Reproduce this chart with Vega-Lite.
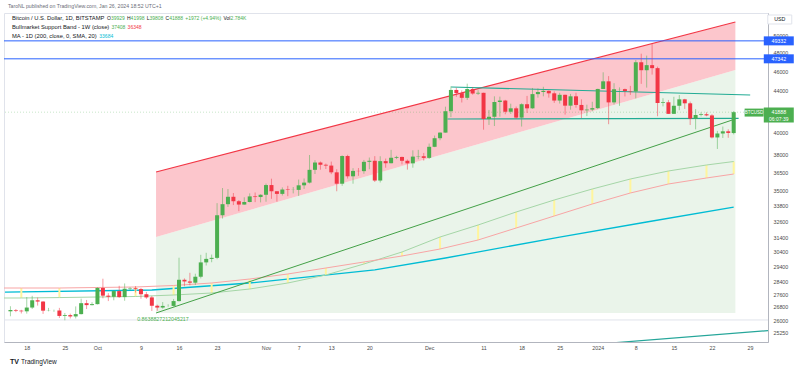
{
"$schema":"https://vega.github.io/schema/vega-lite/v6.json",
"width":764,"height":329,"autosize":"none",
"padding":{"left":4,"top":13,"right":32,"bottom":28},
"background":"white",
"config":{"view":{"stroke":"#E0E3EB"},"font":"Liberation Sans","axis":{"grid":false,"ticks":false,"domainColor":"#B2B5BE","labelFont":"Liberation Sans","labelColor":"#4A4A4A","labelFontSize":5.3,"labelOverlap":false,"labelFlush":false}},
"datasets":{
"candles":[
{"d":"2023-09-15","o":26530,"h":26840,"l":26230,"c":26610},
{"d":"2023-09-16","o":26610,"h":26670,"l":26480,"c":26570},
{"d":"2023-09-17","o":26570,"h":26620,"l":26400,"c":26530},
{"d":"2023-09-18","o":26530,"h":27410,"l":26390,"c":26760},
{"d":"2023-09-19","o":26760,"h":27490,"l":26670,"c":27210},
{"d":"2023-09-20","o":27210,"h":27380,"l":26880,"c":27130},
{"d":"2023-09-21","o":27130,"h":27160,"l":26370,"c":26570},
{"d":"2023-09-22","o":26570,"h":26740,"l":26530,"c":26580},
{"d":"2023-09-23","o":26580,"h":26630,"l":26500,"c":26580},
{"d":"2023-09-24","o":26580,"h":26740,"l":26130,"c":26250},
{"d":"2023-09-25","o":26250,"h":26430,"l":25990,"c":26300},
{"d":"2023-09-26","o":26300,"h":26390,"l":26100,"c":26220},
{"d":"2023-09-27","o":26220,"h":26830,"l":26100,"c":26360},
{"d":"2023-09-28","o":26360,"h":27310,"l":26340,"c":27030},
{"d":"2023-09-29","o":27030,"h":27230,"l":26670,"c":26910},
{"d":"2023-09-30","o":26910,"h":27090,"l":26890,"c":26970},
{"d":"2023-10-01","o":26970,"h":28040,"l":26950,"c":27990},
{"d":"2023-10-02","o":27990,"h":28590,"l":27330,"c":27500},
{"d":"2023-10-03","o":27500,"h":27660,"l":27160,"c":27430},
{"d":"2023-10-04","o":27430,"h":27830,"l":27210,"c":27790},
{"d":"2023-10-05","o":27790,"h":28130,"l":27360,"c":27410},
{"d":"2023-10-06","o":27410,"h":28280,"l":27180,"c":27940},
{"d":"2023-10-07","o":27940,"h":28040,"l":27840,"c":27970},
{"d":"2023-10-08","o":27970,"h":28110,"l":27700,"c":27920},
{"d":"2023-10-09","o":27920,"h":27990,"l":27310,"c":27590},
{"d":"2023-10-10","o":27590,"h":27740,"l":27300,"c":27390},
{"d":"2023-10-11","o":27390,"h":27480,"l":26550,"c":26870},
{"d":"2023-10-12","o":26870,"h":26940,"l":26560,"c":26760},
{"d":"2023-10-13","o":26760,"h":27100,"l":26690,"c":26860},
{"d":"2023-10-14","o":26860,"h":26960,"l":26810,"c":26860},
{"d":"2023-10-15","o":26860,"h":27290,"l":26820,"c":27160},
{"d":"2023-10-16","o":27160,"h":30000,"l":27130,"c":28520},
{"d":"2023-10-17","o":28520,"h":28610,"l":28100,"c":28410},
{"d":"2023-10-18","o":28410,"h":28980,"l":28160,"c":28330},
{"d":"2023-10-19","o":28330,"h":28920,"l":28180,"c":28720},
{"d":"2023-10-20","o":28720,"h":30200,"l":28610,"c":29680},
{"d":"2023-10-21","o":29680,"h":30340,"l":29470,"c":29920},
{"d":"2023-10-22","o":29920,"h":30220,"l":29690,"c":29990},
{"d":"2023-10-23","o":29990,"h":34000,"l":29900,"c":33070},
{"d":"2023-10-24","o":33070,"h":35200,"l":32820,"c":33920},
{"d":"2023-10-25","o":33920,"h":35120,"l":33710,"c":34500},
{"d":"2023-10-26","o":34500,"h":34800,"l":33850,"c":34150},
{"d":"2023-10-27","o":34150,"h":34240,"l":33380,"c":33890},
{"d":"2023-10-28","o":33890,"h":34460,"l":33870,"c":34090},
{"d":"2023-10-29","o":34090,"h":34770,"l":34060,"c":34530},
{"d":"2023-10-30","o":34530,"h":34840,"l":34080,"c":34480},
{"d":"2023-10-31","o":34480,"h":34700,"l":34060,"c":34660},
{"d":"2023-11-01","o":34660,"h":35560,"l":34110,"c":35440},
{"d":"2023-11-02","o":35440,"h":35960,"l":34340,"c":34940},
{"d":"2023-11-03","o":34940,"h":34940,"l":34120,"c":34730},
{"d":"2023-11-04","o":34730,"h":35250,"l":34600,"c":35080},
{"d":"2023-11-05","o":35080,"h":35380,"l":34550,"c":35040},
{"d":"2023-11-06","o":35040,"h":35280,"l":34770,"c":35050},
{"d":"2023-11-07","o":35050,"h":35890,"l":34570,"c":35420},
{"d":"2023-11-08","o":35420,"h":35980,"l":35130,"c":35640},
{"d":"2023-11-09","o":35640,"h":37970,"l":35570,"c":36700},
{"d":"2023-11-10","o":36700,"h":37520,"l":36350,"c":37320},
{"d":"2023-11-11","o":37320,"h":37410,"l":36710,"c":37130},
{"d":"2023-11-12","o":37130,"h":37230,"l":36770,"c":37060},
{"d":"2023-11-13","o":37060,"h":37400,"l":36340,"c":36490},
{"d":"2023-11-14","o":36490,"h":36750,"l":34940,"c":35550},
{"d":"2023-11-15","o":35550,"h":37940,"l":35380,"c":37880},
{"d":"2023-11-16","o":37880,"h":37990,"l":35970,"c":36160},
{"d":"2023-11-17","o":36160,"h":36840,"l":35550,"c":36610},
{"d":"2023-11-18","o":36610,"h":36850,"l":36200,"c":36590},
{"d":"2023-11-19","o":36590,"h":37540,"l":36370,"c":37380},
{"d":"2023-11-20","o":37380,"h":37750,"l":36750,"c":37470},
{"d":"2023-11-21","o":37470,"h":37870,"l":35690,"c":35810},
{"d":"2023-11-22","o":35810,"h":37860,"l":35650,"c":37440},
{"d":"2023-11-23","o":37440,"h":37660,"l":36880,"c":37260},
{"d":"2023-11-24","o":37260,"h":38420,"l":37260,"c":37730},
{"d":"2023-11-25","o":37730,"h":37900,"l":37610,"c":37800},
{"d":"2023-11-26","o":37800,"h":37830,"l":37160,"c":37470},
{"d":"2023-11-27","o":37470,"h":37580,"l":36720,"c":37250},
{"d":"2023-11-28","o":37250,"h":38380,"l":36880,"c":37830},
{"d":"2023-11-29","o":37830,"h":38420,"l":37600,"c":37860},
{"d":"2023-11-30","o":37860,"h":38150,"l":37490,"c":37720},
{"d":"2023-12-01","o":37720,"h":38980,"l":37620,"c":38690},
{"d":"2023-12-02","o":38690,"h":39700,"l":38660,"c":39460},
{"d":"2023-12-03","o":39460,"h":40000,"l":39280,"c":39970},
{"d":"2023-12-04","o":39970,"h":42420,"l":39970,"c":41980},
{"d":"2023-12-05","o":41980,"h":44450,"l":41420,"c":44080},
{"d":"2023-12-06","o":44080,"h":44300,"l":43390,"c":43760},
{"d":"2023-12-07","o":43760,"h":44040,"l":42830,"c":43290},
{"d":"2023-12-08","o":43290,"h":44720,"l":43080,"c":44170},
{"d":"2023-12-09","o":44170,"h":44380,"l":43600,"c":43720},
{"d":"2023-12-10","o":43720,"h":44050,"l":43580,"c":43790},
{"d":"2023-12-11","o":43790,"h":43800,"l":40240,"c":41240},
{"d":"2023-12-12","o":41240,"h":42100,"l":40680,"c":41450},
{"d":"2023-12-13","o":41450,"h":43440,"l":40580,"c":42880},
{"d":"2023-12-14","o":42880,"h":43410,"l":41460,"c":43020},
{"d":"2023-12-15","o":43020,"h":43090,"l":41690,"c":41930},
{"d":"2023-12-16","o":41930,"h":42710,"l":41720,"c":42260},
{"d":"2023-12-17","o":42260,"h":42430,"l":41250,"c":41370},
{"d":"2023-12-18","o":41370,"h":42750,"l":40530,"c":42660},
{"d":"2023-12-19","o":42660,"h":43480,"l":41810,"c":42260},
{"d":"2023-12-20","o":42260,"h":44280,"l":42220,"c":43660},
{"d":"2023-12-21","o":43660,"h":44240,"l":43310,"c":43870},
{"d":"2023-12-22","o":43870,"h":44400,"l":43440,"c":43990},
{"d":"2023-12-23","o":43990,"h":44030,"l":43310,"c":43740},
{"d":"2023-12-24","o":43740,"h":43940,"l":42790,"c":43020},
{"d":"2023-12-25","o":43020,"h":43790,"l":42730,"c":43590},
{"d":"2023-12-26","o":43590,"h":43600,"l":41660,"c":42520},
{"d":"2023-12-27","o":42520,"h":43680,"l":42130,"c":43440},
{"d":"2023-12-28","o":43440,"h":43800,"l":42320,"c":42590},
{"d":"2023-12-29","o":42590,"h":43140,"l":41320,"c":42070},
{"d":"2023-12-30","o":42070,"h":42610,"l":41520,"c":42140},
{"d":"2023-12-31","o":42140,"h":42900,"l":41970,"c":42280},
{"d":"2024-01-01","o":42280,"h":44200,"l":42180,"c":44180},
{"d":"2024-01-02","o":44180,"h":45900,"l":44180,"c":44960},
{"d":"2024-01-03","o":44960,"h":45500,"l":40750,"c":42840},
{"d":"2024-01-04","o":42840,"h":44770,"l":42630,"c":44150},
{"d":"2024-01-05","o":44150,"h":44340,"l":42500,"c":44160},
{"d":"2024-01-06","o":44160,"h":44220,"l":43430,"c":43970},
{"d":"2024-01-07","o":43970,"h":44490,"l":43580,"c":43930},
{"d":"2024-01-08","o":43930,"h":47210,"l":43230,"c":46970},
{"d":"2024-01-09","o":46970,"h":47900,"l":44700,"c":46120},
{"d":"2024-01-10","o":46120,"h":47690,"l":44320,"c":46660},
{"d":"2024-01-11","o":46660,"h":48970,"l":45660,"c":46340},
{"d":"2024-01-12","o":46340,"h":46500,"l":41500,"c":42780},
{"d":"2024-01-13","o":42780,"h":43250,"l":42450,"c":42850},
{"d":"2024-01-14","o":42850,"h":43080,"l":41720,"c":41730},
{"d":"2024-01-15","o":41730,"h":43390,"l":41720,"c":42510},
{"d":"2024-01-16","o":42510,"h":43570,"l":42080,"c":43140},
{"d":"2024-01-17","o":43140,"h":43190,"l":42200,"c":42750},
{"d":"2024-01-18","o":42750,"h":42920,"l":40680,"c":41280},
{"d":"2024-01-19","o":41280,"h":42180,"l":40270,"c":41620},
{"d":"2024-01-20","o":41620,"h":41870,"l":41480,"c":41690},
{"d":"2024-01-21","o":41690,"h":41880,"l":41500,"c":41580},
{"d":"2024-01-22","o":41580,"h":41690,"l":39440,"c":39530},
{"d":"2024-01-23","o":39530,"h":40130,"l":38500,"c":39890},
{"d":"2024-01-24","o":39890,"h":40530,"l":39480,"c":40090},
{"d":"2024-01-25","o":40090,"h":40280,"l":39500,"c":39940},
{"d":"2024-01-26","o":39929,"h":41998,"l":39808,"c":41888}
],
"ma200":[
{"t":"2023-09-14","p":27730},{"t":"2023-10-11","p":27858},{"t":"2023-10-29","p":28310},{"t":"2023-11-21","p":29175},{"t":"2023-12-04","p":29981},{"t":"2023-12-25","p":31459},{"t":"2024-01-10","p":32562},{"t":"2024-01-26","p":33684}
],
"bmsb":[
{"t":"2023-09-10","sma":27353,"ema":27987},{"t":"2023-09-17","sma":27353,"ema":27987},{"t":"2023-09-24","sma":27380,"ema":27987},{"t":"2023-10-01","sma":27415,"ema":28020},{"t":"2023-10-08","sma":27447,"ema":28052},{"t":"2023-10-15","sma":27541,"ema":28149},{"t":"2023-10-22","sma":27668,"ema":28310},{"t":"2023-10-29","sma":27923,"ema":28571},{"t":"2023-11-05","sma":28310,"ema":28901},{"t":"2023-11-12","sma":28835,"ema":29301},{"t":"2023-11-19","sma":29571,"ema":29708},{"t":"2023-11-26","sma":30397,"ema":30119},{"t":"2023-12-03","sma":31460,"ema":30606},{"t":"2023-12-10","sma":32338,"ema":31245},{"t":"2023-12-17","sma":33317,"ema":32116},{"t":"2023-12-24","sma":34247,"ema":33013},{"t":"2023-12-31","sma":35122,"ema":33934},{"t":"2024-01-07","sma":35937,"ema":34801},{"t":"2024-01-14","sma":36602,"ema":35527},{"t":"2024-01-21","sma":37110,"ema":36019},{"t":"2024-01-26","sma":37408,"ema":36348}
],
"zone":[
{"t":"2023-10-11T18:36:00Z","top":36518,"mid":31460,"bot":26428},
{"t":"2024-01-26T07:26:00Z","top":51513,"mid":46144,"bot":26428}
],
"diag":[
{"t":"2023-10-11T18:36:00Z","p":26428},{"t":"2024-01-26T07:26:00Z","p":41240}
],
"chan":[
{"g":"a","t":"2023-12-05T01:00:00Z","p":44379},{"g":"a","t":"2024-01-29T00:45:00Z","p":43572},
{"g":"b","t":"2023-12-04T08:50:00Z","p":41240},{"g":"b","t":"2024-01-26T21:40:00Z","p":41304}
],
"teal2":[
{"t":"2023-12-31T21:40:00Z","p":24608},{"t":"2024-02-02T13:40:00Z","p":25411}
]
},
"layer":[
{"data":{"name":"zone"},"mark":{"type":"area","color":"#EAF4EA","clip":true},
"encoding":{
"x":{"field":"t","type":"temporal","title":null,"scale":{"type":"utc","domain":[1694712948480,1706692913280]},
"axis":{"values":[1694995200000,1695600000000,1696118400000,1696809600000,1697414400000,1698019200000,1698796800000,1699315200000,1699833600000,1700438400000,1701388800000,1702252800000,1702857600000,1703462400000,1704067200000,1704672000000,1705276800000,1705881600000,1706486400000],
"labelExpr":"utcdate(datum.value)==1 ? (utcmonth(datum.value)==0 ? utcFormat(datum.value,'%Y') : utcFormat(datum.value,'%b')) : utcFormat(datum.value,'%-d')","labelPadding":3}},
"y":{"field":"mid","type":"quantitative","title":null,"scale":{"type":"log","domain":[24727,52588],"nice":false},
"axis":{"orient":"right","values":[50000,48000,46000,44000,40000,38000,36500,35000,33800,32600,31400,30400,29400,28400,27600,26800,26000,25250],"format":"d","labelAlign":"left","labelPadding":5}},
"y2":{"field":"bot"}}},
{"data":{"name":"zone"},"mark":{"type":"area","color":"#FCC6CC","clip":true},
"encoding":{"x":{"field":"t","type":"temporal","title":null,"scale":{"type":"utc","domain":[1694712948480,1706692913280]}},
"y":{"field":"top","type":"quantitative","title":null,"scale":{"type":"log","domain":[24727,52588],"nice":false}},"y2":{"field":"mid"}}},
{"data":{"values":[{"p":26009}]},"mark":{"type":"rule","color":"#E0E3EB","strokeWidth":1},
"encoding":{"y":{"field":"p","type":"quantitative","title":null,"scale":{"type":"log","domain":[24727,52588],"nice":false}}}},
{"data":{"values":[{"p":41888}]},"mark":{"type":"rule","color":"#4CAF50","strokeWidth":1,"opacity":0.3,"strokeDash":[1,2]},
"encoding":{"y":{"field":"p","type":"quantitative","title":null,"scale":{"type":"log","domain":[24727,52588],"nice":false}}}},
{"data":{"name":"ma200"},"mark":{"type":"line","color":"#00BCD4","strokeWidth":1.3,"clip":true},
"encoding":{"x":{"field":"t","type":"temporal","title":null,"scale":{"type":"utc","domain":[1694712948480,1706692913280]}},
"y":{"field":"p","type":"quantitative","title":null,"scale":{"type":"log","domain":[24727,52588],"nice":false}}}},
{"data":{"name":"bmsb"},"mark":{"type":"rule","color":"#FFF59D","strokeWidth":2,"clip":true},
"encoding":{"x":{"field":"t","type":"temporal","title":null,"scale":{"type":"utc","domain":[1694712948480,1706692913280]}},
"y":{"field":"sma","type":"quantitative","title":null,"scale":{"type":"log","domain":[24727,52588],"nice":false}},"y2":{"field":"ema"}}},
{"data":{"name":"bmsb"},"mark":{"type":"line","color":"#A5D6A7","strokeWidth":1,"clip":true},
"encoding":{"x":{"field":"t","type":"temporal","title":null,"scale":{"type":"utc","domain":[1694712948480,1706692913280]}},
"y":{"field":"sma","type":"quantitative","title":null,"scale":{"type":"log","domain":[24727,52588],"nice":false}}}},
{"data":{"name":"bmsb"},"mark":{"type":"line","color":"#F8A5A5","strokeWidth":1,"clip":true},
"encoding":{"x":{"field":"t","type":"temporal","title":null,"scale":{"type":"utc","domain":[1694712948480,1706692913280]}},
"y":{"field":"ema","type":"quantitative","title":null,"scale":{"type":"log","domain":[24727,52588],"nice":false}}}},
{"data":{"name":"diag"},"mark":{"type":"line","color":"#43A047","strokeWidth":1,"clip":true},
"encoding":{"x":{"field":"t","type":"temporal","title":null,"scale":{"type":"utc","domain":[1694712948480,1706692913280]}},
"y":{"field":"p","type":"quantitative","title":null,"scale":{"type":"log","domain":[24727,52588],"nice":false}}}},
{"data":{"name":"zone"},"mark":{"type":"line","color":"#F23645","strokeWidth":1.2,"clip":true},
"encoding":{"x":{"field":"t","type":"temporal","title":null,"scale":{"type":"utc","domain":[1694712948480,1706692913280]}},
"y":{"field":"top","type":"quantitative","title":null,"scale":{"type":"log","domain":[24727,52588],"nice":false}}}},
{"data":{"name":"chan"},"mark":{"type":"line","color":"#22AB94","strokeWidth":1.2,"clip":true},
"encoding":{"x":{"field":"t","type":"temporal","title":null,"scale":{"type":"utc","domain":[1694712948480,1706692913280]}},
"y":{"field":"p","type":"quantitative","title":null,"scale":{"type":"log","domain":[24727,52588],"nice":false}},"detail":{"field":"g"}}},
{"data":{"name":"teal2"},"mark":{"type":"line","color":"#26A69A","strokeWidth":1.2,"clip":true},
"encoding":{"x":{"field":"t","type":"temporal","title":null,"scale":{"type":"utc","domain":[1694712948480,1706692913280]}},
"y":{"field":"p","type":"quantitative","title":null,"scale":{"type":"log","domain":[24727,52588],"nice":false}}}},
{"data":{"values":[{"p":49332},{"p":47342}]},"mark":{"type":"rule","color":"#2962FF","strokeWidth":1},
"encoding":{"y":{"field":"p","type":"quantitative","title":null,"scale":{"type":"log","domain":[24727,52588],"nice":false}}}},
{"data":{"name":"candles"},"mark":{"type":"rule","strokeWidth":1,"opacity":0.5,"clip":true},
"encoding":{"x":{"field":"d","type":"temporal","title":null,"scale":{"type":"utc","domain":[1694712948480,1706692913280]}},
"y":{"field":"l","type":"quantitative","title":null,"scale":{"type":"log","domain":[24727,52588],"nice":false}},"y2":{"field":"h"},
"color":{"condition":{"test":"datum.c >= datum.o","value":"#4CAF50"},"value":"#F23645"}}},
{"data":{"name":"candles"},"mark":{"type":"bar","width":4,"clip":true},
"encoding":{"x":{"field":"d","type":"temporal","title":null,"scale":{"type":"utc","domain":[1694712948480,1706692913280]}},
"y":{"field":"o","type":"quantitative","title":null,"scale":{"type":"log","domain":[24727,52588],"nice":false}},"y2":{"field":"c"},
"color":{"condition":{"test":"datum.c >= datum.o","value":"#4CAF50"},"value":"#F23645"}}},
{"data":{"values":[{"p":49332,"s":"49332"},{"p":47342,"s":"47342"}]},"mark":{"type":"point","shape":"M-1,-0.3H1V0.3H-1Z","size":900,"filled":true,"opacity":1,"color":"#2962FF"},
"encoding":{"x":{"datum":1706943801600,"type":"temporal","title":null,"scale":{"type":"utc","domain":[1694712948480,1706692913280]}},
"y":{"field":"p","type":"quantitative","title":null,"scale":{"type":"log","domain":[24727,52588],"nice":false}}}},
{"data":{"values":[{"p":49332,"s":"49332"},{"p":47342,"s":"47342"}]},"mark":{"type":"text","color":"white","fontSize":5.3,"align":"center","baseline":"middle"},
"encoding":{"x":{"datum":1706943801600,"type":"temporal","title":null,"scale":{"type":"utc","domain":[1694712948480,1706692913280]}},
"y":{"field":"p","type":"quantitative","title":null,"scale":{"type":"log","domain":[24727,52588],"nice":false}},"text":{"field":"s"}}},
{"data":{"values":[{}]},"mark":{"type":"point","shape":"M-1,-0.5H1V0.5H-1Z","size":900,"filled":true,"opacity":1,"color":"#4CAF50"},
"encoding":{"x":{"datum":1706943801600,"type":"temporal","title":null,"scale":{"type":"utc","domain":[1694712948480,1706692913280]}},
"y":{"datum":41618,"type":"quantitative","title":null,"scale":{"type":"log","domain":[24727,52588],"nice":false}}}},
{"data":{"values":[{}]},"mark":{"type":"text","text":"41888","dy":-3.5,"color":"white","fontSize":5.3,"align":"center","baseline":"middle"},
"encoding":{"x":{"datum":1706943801600,"type":"temporal","title":null,"scale":{"type":"utc","domain":[1694712948480,1706692913280]}},
"y":{"datum":41618,"type":"quantitative","title":null,"scale":{"type":"log","domain":[24727,52588],"nice":false}}}},
{"data":{"values":[{}]},"mark":{"type":"text","text":"06:07:39","dy":3.5,"color":"white","fontSize":5,"align":"center","baseline":"middle"},
"encoding":{"x":{"datum":1706943801600,"type":"temporal","title":null,"scale":{"type":"utc","domain":[1694712948480,1706692913280]}},
"y":{"datum":41618,"type":"quantitative","title":null,"scale":{"type":"log","domain":[24727,52588],"nice":false}}}},
{"data":{"values":[{}]},"mark":{"type":"point","shape":"M-1,-0.42H1V0.42H-1Z","size":361,"filled":true,"opacity":1,"color":"#4CAF50"},
"encoding":{"x":{"datum":1706551804800,"type":"temporal","title":null,"scale":{"type":"utc","domain":[1694712948480,1706692913280]}},
"y":{"datum":41850,"type":"quantitative","title":null,"scale":{"type":"log","domain":[24727,52588],"nice":false}}}},
{"data":{"values":[{}]},"mark":{"type":"text","text":"BTCUSD","color":"white","fontSize":4.5,"align":"center","baseline":"middle"},
"encoding":{"x":{"datum":1706551804800,"type":"temporal","title":null,"scale":{"type":"utc","domain":[1694712948480,1706692913280]}},
"y":{"datum":41850,"type":"quantitative","title":null,"scale":{"type":"log","domain":[24727,52588],"nice":false}}}},
{"data":{"values":[{}]},"mark":{"type":"point","shape":"M-1,-0.375H1V0.375H-1Z","size":576,"filled":true,"opacity":1,"color":"white","stroke":"#E0E3EB","strokeWidth":1},
"encoding":{"x":{"datum":1706959440000,"type":"temporal","title":null,"scale":{"type":"utc","domain":[1694712948480,1706692913280]}},
"y":{"datum":51810,"type":"quantitative","title":null,"scale":{"type":"log","domain":[24727,52588],"nice":false}}}},
{"data":{"values":[{}]},"mark":{"type":"text","text":"USD","color":"#131722","fontSize":5.3,"align":"center","baseline":"middle"},
"encoding":{"x":{"datum":1706959440000,"type":"temporal","title":null,"scale":{"type":"utc","domain":[1694712948480,1706692913280]}},
"y":{"datum":51810,"type":"quantitative","title":null,"scale":{"type":"log","domain":[24727,52588],"nice":false}}}},
{"data":{"values":[{}]},"mark":{"type":"text","text":"0.8638827212045217","color":"#4CAF50","fontSize":5.3,"align":"center","baseline":"middle"},
"encoding":{"x":{"datum":1697159088000,"type":"temporal","title":null,"scale":{"type":"utc","domain":[1694712948480,1706692913280]}},
"y":{"datum":26066,"type":"quantitative","title":null,"scale":{"type":"log","domain":[24727,52588],"nice":false}}}},
{"data":{"values":[{}]},"mark":{"type":"text","text":"TaroNL published on TradingView.com, Jan 26, 2024 18:52 UTC+1","dx":-1,"dy":-7,"color":"#6A6D78","fontSize":5.2,"align":"left","baseline":"middle"},
"encoding":{"x":{"datum":1694712948480,"type":"temporal","title":null,"scale":{"type":"utc","domain":[1694712948480,1706692913280]}},
"y":{"datum":52588,"type":"quantitative","title":null,"scale":{"type":"log","domain":[24727,52588],"nice":false}}}},
{"data":{"values":[{}]},"mark":{"type":"text","text":"Bitcoin / U.S. Dollar, 1D, BITSTAMP","dx":3,"dy":5,"color":"#131722","fontSize":5.8,"align":"left","baseline":"middle"},
"encoding":{"x":{"datum":1694712948480,"type":"temporal","title":null,"scale":{"type":"utc","domain":[1694712948480,1706692913280]}},
"y":{"datum":52588,"type":"quantitative","title":null,"scale":{"type":"log","domain":[24727,52588],"nice":false}}}},
{"data":{"values":[{}]},"mark":{"type":"text","text":"O","dx":98,"dy":5,"color":"#131722","fontSize":5,"align":"left","baseline":"middle"},
"encoding":{"x":{"datum":1694712948480,"type":"temporal","title":null,"scale":{"type":"utc","domain":[1694712948480,1706692913280]}},
"y":{"datum":52588,"type":"quantitative","title":null,"scale":{"type":"log","domain":[24727,52588],"nice":false}}}},
{"data":{"values":[{}]},"mark":{"type":"text","text":"39929","dx":101.9,"dy":5,"color":"#4CAF50","fontSize":5,"align":"left","baseline":"middle"},
"encoding":{"x":{"datum":1694712948480,"type":"temporal","title":null,"scale":{"type":"utc","domain":[1694712948480,1706692913280]}},
"y":{"datum":52588,"type":"quantitative","title":null,"scale":{"type":"log","domain":[24727,52588],"nice":false}}}},
{"data":{"values":[{}]},"mark":{"type":"text","text":"H","dx":118,"dy":5,"color":"#131722","fontSize":5,"align":"left","baseline":"middle"},
"encoding":{"x":{"datum":1694712948480,"type":"temporal","title":null,"scale":{"type":"utc","domain":[1694712948480,1706692913280]}},
"y":{"datum":52588,"type":"quantitative","title":null,"scale":{"type":"log","domain":[24727,52588],"nice":false}}}},
{"data":{"values":[{}]},"mark":{"type":"text","text":"41998","dx":121.6,"dy":5,"color":"#4CAF50","fontSize":5,"align":"left","baseline":"middle"},
"encoding":{"x":{"datum":1694712948480,"type":"temporal","title":null,"scale":{"type":"utc","domain":[1694712948480,1706692913280]}},
"y":{"datum":52588,"type":"quantitative","title":null,"scale":{"type":"log","domain":[24727,52588],"nice":false}}}},
{"data":{"values":[{}]},"mark":{"type":"text","text":"L","dx":137.7,"dy":5,"color":"#131722","fontSize":5,"align":"left","baseline":"middle"},
"encoding":{"x":{"datum":1694712948480,"type":"temporal","title":null,"scale":{"type":"utc","domain":[1694712948480,1706692913280]}},
"y":{"datum":52588,"type":"quantitative","title":null,"scale":{"type":"log","domain":[24727,52588],"nice":false}}}},
{"data":{"values":[{}]},"mark":{"type":"text","text":"39808","dx":140.5,"dy":5,"color":"#4CAF50","fontSize":5,"align":"left","baseline":"middle"},
"encoding":{"x":{"datum":1694712948480,"type":"temporal","title":null,"scale":{"type":"utc","domain":[1694712948480,1706692913280]}},
"y":{"datum":52588,"type":"quantitative","title":null,"scale":{"type":"log","domain":[24727,52588],"nice":false}}}},
{"data":{"values":[{}]},"mark":{"type":"text","text":"C","dx":156.6,"dy":5,"color":"#131722","fontSize":5,"align":"left","baseline":"middle"},
"encoding":{"x":{"datum":1694712948480,"type":"temporal","title":null,"scale":{"type":"utc","domain":[1694712948480,1706692913280]}},
"y":{"datum":52588,"type":"quantitative","title":null,"scale":{"type":"log","domain":[24727,52588],"nice":false}}}},
{"data":{"values":[{}]},"mark":{"type":"text","text":"41888","dx":160.2,"dy":5,"color":"#4CAF50","fontSize":5,"align":"left","baseline":"middle"},
"encoding":{"x":{"datum":1694712948480,"type":"temporal","title":null,"scale":{"type":"utc","domain":[1694712948480,1706692913280]}},
"y":{"datum":52588,"type":"quantitative","title":null,"scale":{"type":"log","domain":[24727,52588],"nice":false}}}},
{"data":{"values":[{}]},"mark":{"type":"text","text":"+1972 (+4.94%)","dx":176.3,"dy":5,"color":"#4CAF50","fontSize":5,"align":"left","baseline":"middle"},
"encoding":{"x":{"datum":1694712948480,"type":"temporal","title":null,"scale":{"type":"utc","domain":[1694712948480,1706692913280]}},
"y":{"datum":52588,"type":"quantitative","title":null,"scale":{"type":"log","domain":[24727,52588],"nice":false}}}},
{"data":{"values":[{}]},"mark":{"type":"text","text":"Vol","dx":214.4,"dy":5,"color":"#131722","fontSize":5,"align":"left","baseline":"middle"},
"encoding":{"x":{"datum":1694712948480,"type":"temporal","title":null,"scale":{"type":"utc","domain":[1694712948480,1706692913280]}},
"y":{"datum":52588,"type":"quantitative","title":null,"scale":{"type":"log","domain":[24727,52588],"nice":false}}}},
{"data":{"values":[{}]},"mark":{"type":"text","text":"2.784K","dx":221.6,"dy":5,"color":"#4CAF50","fontSize":5,"align":"left","baseline":"middle"},
"encoding":{"x":{"datum":1694712948480,"type":"temporal","title":null,"scale":{"type":"utc","domain":[1694712948480,1706692913280]}},
"y":{"datum":52588,"type":"quantitative","title":null,"scale":{"type":"log","domain":[24727,52588],"nice":false}}}},
{"data":{"values":[{}]},"mark":{"type":"text","text":"Bullmarket Support Band - 1W (close)","dx":3,"dy":14,"color":"#131722","fontSize":5.8,"align":"left","baseline":"middle"},
"encoding":{"x":{"datum":1694712948480,"type":"temporal","title":null,"scale":{"type":"utc","domain":[1694712948480,1706692913280]}},
"y":{"datum":52588,"type":"quantitative","title":null,"scale":{"type":"log","domain":[24727,52588],"nice":false}}}},
{"data":{"values":[{}]},"mark":{"type":"text","text":"37408","dx":102.5,"dy":14,"color":"#4CAF50","fontSize":5,"align":"left","baseline":"middle"},
"encoding":{"x":{"datum":1694712948480,"type":"temporal","title":null,"scale":{"type":"utc","domain":[1694712948480,1706692913280]}},
"y":{"datum":52588,"type":"quantitative","title":null,"scale":{"type":"log","domain":[24727,52588],"nice":false}}}},
{"data":{"values":[{}]},"mark":{"type":"text","text":"36348","dx":118.6,"dy":14,"color":"#F23645","fontSize":5,"align":"left","baseline":"middle"},
"encoding":{"x":{"datum":1694712948480,"type":"temporal","title":null,"scale":{"type":"utc","domain":[1694712948480,1706692913280]}},
"y":{"datum":52588,"type":"quantitative","title":null,"scale":{"type":"log","domain":[24727,52588],"nice":false}}}},
{"data":{"values":[{}]},"mark":{"type":"text","text":"MA - 1D (200, close, 0, SMA, 20)","dx":3,"dy":23,"color":"#131722","fontSize":5.8,"align":"left","baseline":"middle"},
"encoding":{"x":{"datum":1694712948480,"type":"temporal","title":null,"scale":{"type":"utc","domain":[1694712948480,1706692913280]}},
"y":{"datum":52588,"type":"quantitative","title":null,"scale":{"type":"log","domain":[24727,52588],"nice":false}}}},
{"data":{"values":[{}]},"mark":{"type":"text","text":"33684","dx":90.3,"dy":23,"color":"#00BCD4","fontSize":5,"align":"left","baseline":"middle"},
"encoding":{"x":{"datum":1694712948480,"type":"temporal","title":null,"scale":{"type":"utc","domain":[1694712948480,1706692913280]}},
"y":{"datum":52588,"type":"quantitative","title":null,"scale":{"type":"log","domain":[24727,52588],"nice":false}}}},
{"data":{"values":[{}]},"mark":{"type":"text","text":"TV","dx":1,"dy":20,"color":"#131722","fontSize":7,"fontWeight":"bold","align":"left","baseline":"middle"},
"encoding":{"x":{"datum":1694712948480,"type":"temporal","title":null,"scale":{"type":"utc","domain":[1694712948480,1706692913280]}},
"y":{"datum":24727,"type":"quantitative","title":null,"scale":{"type":"log","domain":[24727,52588],"nice":false}}}},
{"data":{"values":[{}]},"mark":{"type":"text","text":"TradingView","dx":12,"dy":20,"color":"#131722","fontSize":6.5,"align":"left","baseline":"middle"},
"encoding":{"x":{"datum":1694712948480,"type":"temporal","title":null,"scale":{"type":"utc","domain":[1694712948480,1706692913280]}},
"y":{"datum":24727,"type":"quantitative","title":null,"scale":{"type":"log","domain":[24727,52588],"nice":false}}}}
]
}
